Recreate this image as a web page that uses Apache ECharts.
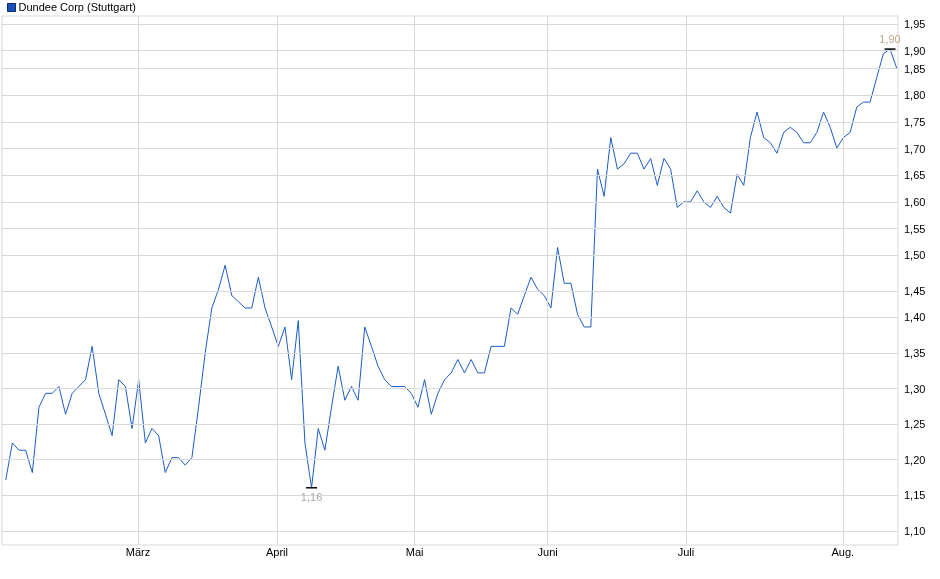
<!DOCTYPE html>
<html>
<head>
<meta charset="UTF-8">
<script src="https://cdn.jsdelivr.net/npm/echarts@6/dist/echarts.min.js"></script>
<style>body{margin:0;background:#fff}#chart{width:940px;height:579px}</style>
</head>
<body>
<div id="chart"></div>
<script>
const seriesName = 'Dundee Corp (Stuttgart)';
const prices = [
  1.17,1.22,1.21,1.21,1.18,1.27,1.29,1.29,1.30,1.26,1.29,1.30,1.31,1.36,1.29,1.26,1.23,1.31,1.30,1.24,
  1.31,1.22,1.24,1.23,1.18,1.20,1.20,1.19,1.20,1.27,1.35,1.42,1.45,1.49,1.44,1.43,1.42,1.42,1.47,1.42,
  1.39,1.36,1.39,1.31,1.40,1.22,1.16,1.24,1.21,1.27,1.33,1.28,1.30,1.28,1.39,1.36,1.33,1.31,1.30,1.30,
  1.30,1.29,1.27,1.31,1.26,1.29,1.31,1.32,1.34,1.32,1.34,1.32,1.32,1.36,1.36,1.36,1.42,1.41,1.44,1.47,
  1.45,1.44,1.42,1.52,1.46,1.46,1.41,1.39,1.39,1.66,1.61,1.72,1.66,1.67,1.69,1.69,1.66,1.68,1.63,1.68,
  1.66,1.59,1.60,1.60,1.62,1.60,1.59,1.61,1.59,1.58,1.65,1.63,1.72,1.77,1.72,1.71,1.69,1.73,1.74,1.73,
  1.71,1.71,1.73,1.77,1.74,1.70,1.72,1.73,1.78,1.79,1.79,1.84,1.89,1.90,1.86
];
const yTicks = [1.10,1.15,1.20,1.25,1.30,1.35,1.40,1.45,1.50,1.55,1.60,1.65,1.70,1.75,1.80,1.85,1.90,1.95];
const monthLabels = ['März','April','Mai','Juni','Juli','Aug.'];
const monthPos = [19.9,40.8,61.5,81.5,102.3,125.9];

const fmt = v => v.toFixed(2).replace('.', ',');
const data = prices.map((p, i) => [i, Math.log(p)]);
let minI = 0, maxI = 0;
prices.forEach((p, i) => { if (p < prices[minI]) minI = i; if (p > prices[maxI]) maxI = i; });

const chart = echarts.init(document.getElementById('chart'));
chart.setOption({
  animation: false,
  textStyle: {fontFamily: 'Liberation Sans, Arial, sans-serif'},
  legend: {
    left: 2, top: -3, itemWidth: 8, itemHeight: 8, itemGap: 4,
    icon: 'rect',
    textStyle: {fontSize: 11, color: '#000', padding: [0, 0, 0, -2]},
    data: [{name: seriesName, itemStyle: {color: '#1c4fb8', borderColor: '#0a2a70', borderWidth: 1}}]
  },
  grid: {left: 2, right: 42, top: 16, bottom: 34, show: true, borderColor: '#d8d8d8', borderWidth: 1},
  xAxis: {
    type: 'value', min: -0.56, max: 134.2,
    axisLine: {show: false}, axisTick: {show: false}, axisLabel: {show: false}, splitLine: {show: false}
  },
  yAxis: {
    type: 'value', min: Math.log(1.0877), max: Math.log(1.972),
    axisLine: {show: false}, axisTick: {show: false}, axisLabel: {show: false}, splitLine: {show: false}
  },
  series: [{
    name: seriesName, type: 'line', data: data, symbol: 'none',
    lineStyle: {color: '#1c5bc8', width: 1},
    itemStyle: {color: '#1c4fb8'},
    markLine: {
      silent: true, symbol: 'none', animation: false,
      lineStyle: {color: '#d8d8d8', width: 1, type: 'solid'},
      data: [
        ...yTicks.map(t => ({yAxis: Math.log(t), label: {show: true, position: 'end', formatter: fmt(t), color: '#000', fontSize: 11, distance: 6, offset: [0, 1]}})),
        ...monthPos.map((m, k) => ({xAxis: m, label: {show: true, position: 'start', formatter: monthLabels[k], color: '#000', fontSize: 11, distance: 2}}))
      ]
    },
    markPoint: {
      silent: true, animation: false,
      data: [
        {coord: [minI, Math.log(prices[minI])], symbol: 'rect', symbolSize: [11, 1.5], itemStyle: {color: '#000'},
         label: {show: true, position: 'bottom', distance: 4, formatter: fmt(prices[minI]), color: '#a8a8a8', fontSize: 11}},
        {coord: [maxI, Math.log(prices[maxI])], symbol: 'rect', symbolSize: [11, 1.5], itemStyle: {color: '#000'},
         label: {show: true, position: 'top', distance: 3, formatter: fmt(prices[maxI]), color: '#c0a888', fontSize: 11}}
      ]
    }
  }]
});
</script>
</body>
</html>
